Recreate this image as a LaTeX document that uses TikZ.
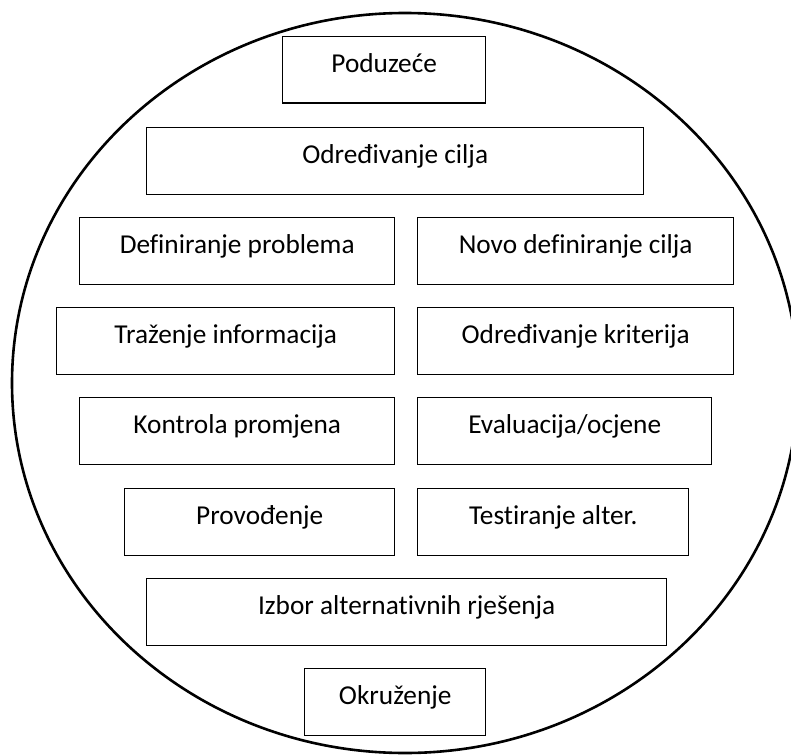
\documentclass[tikz,border=0pt]{standalone}
\usepackage{fontspec}
\setmainfont[Ligatures={CommonOff,ContextualOff,RareOff}]{Carlito}
\begin{document}
\begin{tikzpicture}[x=1pt,y=-1pt,
  box/.style={draw=black, line width=1.4pt, anchor=north west, inner sep=0pt,
    text height=36pt, text depth=30.5pt, align=center,
    font=\fontsize{27.3}{30}\selectfont},
  rim/.style={draw=black, line width=2.6pt}]
\useasboundingbox (0,0) rectangle (791,754);
\draw[rim] (405,383) ellipse [x radius=393, y radius=370];
\node[box, minimum width=203pt] (poduzece) at (282,36) {Poduzeće};
\node[box, minimum width=497pt] (cilj) at (146,127) {Određivanje cilja};
\node[box, minimum width=315pt] (defprob) at (79,217) {Definiranje problema};
\node[box, minimum width=316pt] (novocilj) at (417,217) {Novo definiranje cilja};
\node[box, minimum width=338pt] (trazinfo) at (56,307) {Traženje informacija};
\node[box, minimum width=316pt] (kriterij) at (417,307) {Određivanje kriterija};
\node[box, minimum width=315pt] (kontrola) at (79,397) {Kontrola promjena};
\node[box, minimum width=294pt] (evaluacija) at (417,397) {Evaluacija/ocjene};
\node[box, minimum width=270pt] (provodenje) at (124,488) {Provođenje};
\node[box, minimum width=271pt] (testiranje) at (417,488) {Testiranje alter.};
\node[box, minimum width=520pt] (izbor) at (146,578) {Izbor alternativnih rješenja};
\node[box, minimum width=181pt] (okruzenje) at (304,668) {Okruženje};
\end{tikzpicture}
\end{document}
